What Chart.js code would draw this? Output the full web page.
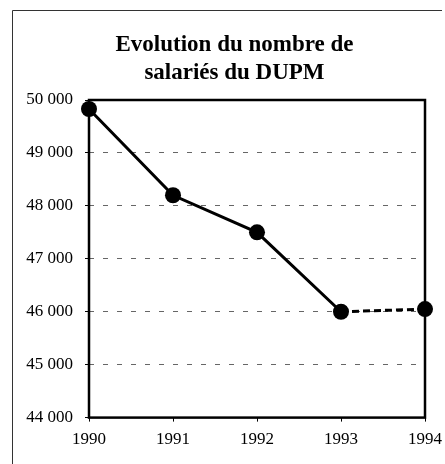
<!DOCTYPE html>
<html lang="fr">
<head>
<meta charset="utf-8">
<title>Evolution du nombre de salariés du DUPM</title>
<script src="https://cdn.jsdelivr.net/npm/chart.js@4/dist/chart.umd.min.js"></script>
<style>
    html, body { margin: 0; padding: 0; background: #fff; }
    #chart { display: block; }
</style>
</head>
<body>
<canvas id="chart" width="445" height="464"></canvas>
<script>
// Données
const annees = ['1990', '1991', '1992', '1993', '1994'];
const salaries = [49830, 48200, 47500, 46000, 46050];
const titre = ['Evolution du nombre de', 'salariés du DUPM'];

const yMin = 44000;
const yMax = 50000;
const yPas = 1000;

const police = '"Liberation Serif", "DejaVu Serif", serif';

// 49000 -> "49 000"
function formatNombre(v) {
    return String(v).replace(/\B(?=(\d{3})+(?!\d))/g, ' ');
}

// Cadre extérieur, titre centré sur le cadre, contour de la zone de tracé
const cadrePlugin = {
    id: 'cadre',
    beforeDraw(chart) {
        const ctx = chart.ctx;
        ctx.save();
        ctx.strokeStyle = '#333';
        ctx.lineWidth = 1;
        ctx.beginPath();
        ctx.moveTo(12.5, 464);
        ctx.lineTo(12.5, 10.5);
        ctx.lineTo(442, 10.5);
        ctx.stroke();

        ctx.fillStyle = '#000';
        ctx.font = 'bold 23px ' + police;
        ctx.textAlign = 'center';
        ctx.textBaseline = 'middle';
        titre.forEach((ligne, i) => ctx.fillText(ligne, 234.5, 45 + i * 28));
        ctx.restore();
    },
    afterDatasetsDraw(chart) {
        const a = chart.chartArea;
        const ctx = chart.ctx;
        ctx.save();
        ctx.strokeStyle = '#000';
        ctx.lineWidth = 2.5;
        ctx.strokeRect(a.left, a.top, a.right - a.left, a.bottom - a.top);
        ctx.restore();
    }
};

const ctx = document.getElementById('chart').getContext('2d');

new Chart(ctx, {
    type: 'line',
    data: {
        labels: annees,
        datasets: [{
            data: salaries,
            borderColor: '#000',
            borderWidth: 3,
            backgroundColor: '#000',
            pointRadius: 8,
            pointHoverRadius: 8,
            pointBackgroundColor: '#000',
            pointBorderWidth: 0,
            tension: 0,
            // dernier segment en pointillé (1993 -> 1994)
            segment: {
                borderDash: c => c.p0DataIndex === 3 ? [7, 4] : undefined
            }
        }]
    },
    options: {
        responsive: false,
        animation: false,
        devicePixelRatio: 1,
        layout: {
            padding: { left: 25, right: 20, top: 100, bottom: 6 }
        },
        plugins: {
            legend: { display: false },
            tooltip: { enabled: false },
            title: { display: false }
        },
        scales: {
            x: {
                offset: false,
                // pas de marge auto pour la dernière étiquette
                afterFit: s => { s.paddingLeft = 0; s.paddingRight = 0; },
                grid: {
                    display: true,
                    drawOnChartArea: false,
                    drawTicks: true,
                    tickLength: 4,
                    color: '#000'
                },
                border: { display: false },
                ticks: {
                    color: '#000',
                    padding: 8,
                    maxRotation: 0,
                    font: { family: police, size: 17 }
                }
            },
            y: {
                min: yMin,
                max: yMax,
                afterFit: s => { s.width = 64; },
                grid: {
                    color: c => (c.tick && (c.tick.value === yMin || c.tick.value === yMax)) ? 'rgba(0,0,0,0)' : '#666',
                    lineWidth: 1,
                    drawTicks: true,
                    tickLength: 4,
                    tickColor: '#000'
                },
                border: { display: false, dash: [5, 9] },
                ticks: {
                    stepSize: yPas,
                    color: '#000',
                    padding: 12,
                    font: { family: police, size: 17 },
                    callback: v => formatNombre(v)
                }
            }
        }
    },
    plugins: [cadrePlugin]
});
</script>
</body>
</html>
